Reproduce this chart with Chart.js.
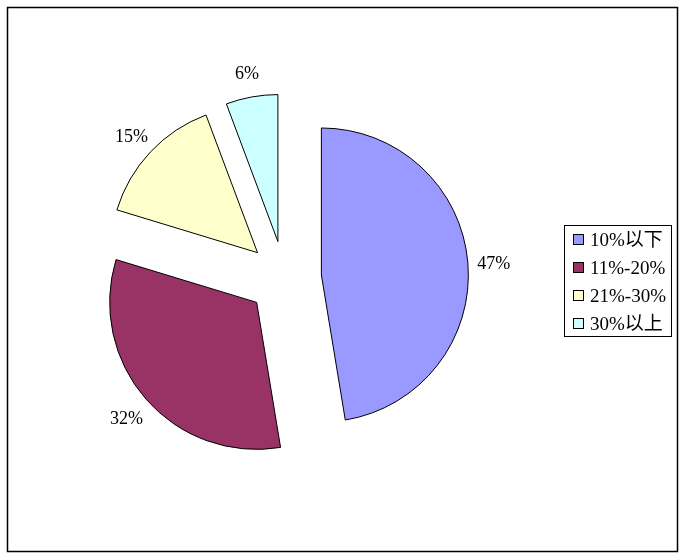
<!DOCTYPE html>
<html>
<head>
<meta charset="utf-8">
<script src="https://cdn.jsdelivr.net/npm/chart.js@4/dist/chart.umd.min.js"></script>
<style>
  html, body { margin: 0; padding: 0; background: #fff; }
  #wrap { width: 685px; height: 560px; }
</style>
</head>
<body>
<div id="wrap"><canvas id="pieChart" width="685" height="560"></canvas></div>
<script>
const categories = ['10%以下', '11%-20%', '21%-30%', '30%以上'];
// shares, labels round to 47/32/15/6
const shares = [47.4, 32.3, 14.6, 5.7];
const sliceColors = ['#9999FF', '#993366', '#FFFFCC', '#CCFFFF'];

const serif = '"Liberation Serif", "Noto Sans CJK SC", serif';
const explode = 37;

// outer frame
const framePlugin = {
    id: 'frame',
    beforeDraw(chart) {
        const c = chart.ctx;
        c.save();
        c.fillStyle = '#fff';
        c.fillRect(0, 0, chart.width, chart.height);
        c.strokeStyle = '#000';
        c.lineWidth = 1.5;
        c.strokeRect(7.5, 7.5, 670, 544);
        c.restore();
    }
};

// pull every slice out along its bisector (excel style exploded pie)
const explodePlugin = {
    id: 'explode',
    afterDatasetUpdate(chart, args) {
        const meta = chart.getDatasetMeta(args.index);
        meta.data.forEach(arc => {
            const mid = (arc.startAngle + arc.endAngle) / 2;
            arc.x += Math.cos(mid) * explode;
            arc.y += Math.sin(mid) * explode;
        });
    }
};

// percent labels outside each slice
const labelPlugin = {
    id: 'pctLabels',
    afterDatasetsDraw(chart) {
        const c = chart.ctx;
        const meta = chart.getDatasetMeta(0);
        const data = chart.data.datasets[0].data;
        const total = data.reduce((a, b) => a + b, 0);
        c.save();
        c.font = '18px ' + serif;
        c.fillStyle = '#000';
        c.textAlign = 'center';
        c.textBaseline = 'middle';
        meta.data.forEach((arc, i) => {
            const mid = (arc.startAngle + arc.endAngle) / 2;
            const r = arc.outerRadius + 26;
            const x = arc.x + Math.cos(mid) * r;
            const y = arc.y + Math.sin(mid) * r + 3;
            c.fillText(Math.round(data[i] / total * 100) + '%', x, y);
        });
        c.restore();
    }
};

// boxed legend on the right
const legendPlugin = {
    id: 'boxLegend',
    afterDraw(chart) {
        const c = chart.ctx;
        const ds = chart.data.datasets[0];
        c.save();
        c.strokeStyle = '#000';
        c.lineWidth = 1;
        c.strokeRect(564.5, 225.5, 107, 111);
        c.font = '19px ' + serif;
        c.textBaseline = 'middle';
        c.textAlign = 'left';
        chart.data.labels.forEach((lab, i) => {
            const y = 240 + i * 28;
            c.fillStyle = ds.backgroundColor[i];
            c.fillRect(573.5, y - 5.5, 10, 10);
            c.strokeStyle = '#000';
            c.strokeRect(573.5, y - 5.5, 10, 10);
            c.fillStyle = '#000';
            c.fillText(lab, 590, y + 1);
        });
        c.restore();
    }
};

const ctx = document.getElementById('pieChart').getContext('2d');
const pieChart = new Chart(ctx, {
    type: 'pie',
    data: {
        labels: categories,
        datasets: [{
            data: shares,
            backgroundColor: sliceColors,
            borderColor: '#000',
            borderWidth: 1,
            radius: 147
        }]
    },
    options: {
        responsive: false,
        animation: false,
        layout: { padding: { left: 21, right: 137, top: 20, bottom: 24 } },
        plugins: {
            legend: { display: false },
            tooltip: { enabled: false }
        }
    },
    plugins: [framePlugin, explodePlugin, labelPlugin, legendPlugin]
});
</script>
</body>
</html>
